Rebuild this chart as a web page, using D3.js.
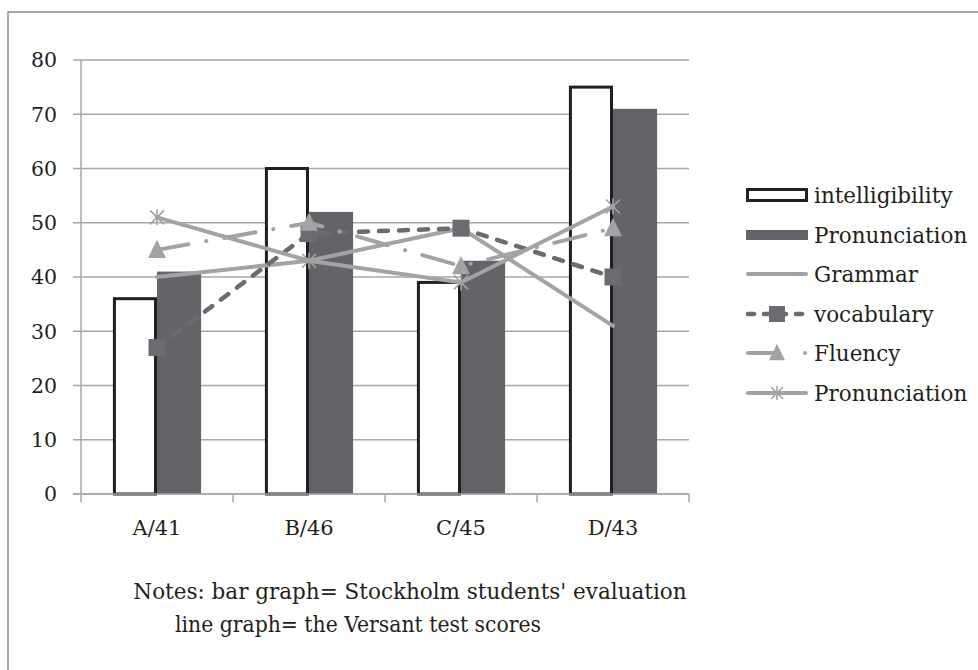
<!DOCTYPE html>
<html><head><meta charset="utf-8">
<script src="https://cdn.jsdelivr.net/npm/d3@7/dist/d3.min.js"></script>
<style>body{margin:0;background:#fff}svg{display:block}text{font-family:"DejaVu Serif",serif;fill:#231f20}</style>
</head><body><svg id="c" width="978" height="670"></svg>
<script>
const categories = ["A/41","B/46","C/45","D/43"];
const intelligibility = [36,60,39,75];
const pronunciationBar = [41,52,43,71];
const grammar = [40,43,49,31];
const vocabulary = [27,48,49,40];
const fluency = [45,50,42,49];
const pronunciationLine = [51,43,39,53];
const yTicks = [0,10,20,30,40,50,60,70,80];
const legendLabels = ["intelligibility","Pronunciation","Grammar","vocabulary","Fluency","Pronunciation"];
const notes = ["Notes: bar graph= Stockholm students' evaluation","line graph= the Versant test scores"];

const svg = d3.select("#c");
const L=81,R=689,T=60,B=494;
const x = d3.scaleBand().domain(categories).range([L,R]).padding(0);
const y = d3.scaleLinear().domain([0,80]).range([B,T]);
const bw = x.bandwidth()*0.29;
const cx = c => x(c)+x.bandwidth()/2;
const LIGHT="#a3a3a5", DARK="#6b6c70", BAR="#636468", GRID="#a7a7a9";

// border
svg.append("rect").attr("x",8).attr("y",12).attr("width",1000).attr("height",700).attr("fill","none").attr("stroke","#6e6e6e").attr("stroke-width",1.2);

// gridlines
svg.append("g").selectAll("line").data(yTicks).join("line")
  .attr("x1",L-8).attr("x2",R).attr("y1",d=>y(d)).attr("y2",d=>y(d))
  .attr("stroke",GRID).attr("stroke-width",1.5);
// y axis
svg.append("line").attr("x1",L).attr("x2",L).attr("y1",T).attr("y2",B).attr("stroke",GRID).attr("stroke-width",1.5);
svg.append("g").selectAll("text").data(yTicks).join("text")
  .attr("x",57).attr("y",d=>y(d)).attr("dy","0.36em").attr("text-anchor","end")
  .attr("font-size",20.5).text(d=>d);
// x ticks
const xt=[...categories.map(c=>x(c)),R];
svg.append("g").selectAll("line").data(xt).join("line")
  .attr("x1",d=>d).attr("x2",d=>d).attr("y1",B).attr("y2",B+8).attr("stroke",GRID).attr("stroke-width",1.5);
svg.append("g").selectAll("text").data(categories).join("text")
  .attr("x",d=>cx(d)).attr("y",527).attr("dy","0.36em").attr("text-anchor","middle")
  .attr("font-size",21).text(d=>d);

// bars
svg.append("g").selectAll("rect").data(categories).join("rect")
  .attr("x",(d)=>cx(d)+1.5-bw).attr("width",bw-3)
  .attr("y",(d,i)=>y(intelligibility[i])).attr("height",(d,i)=>B-y(intelligibility[i]))
  .attr("fill","#fff").attr("stroke","#231f20").attr("stroke-width",3);
svg.append("g").selectAll("rect").data(categories).join("rect")
  .attr("x",d=>cx(d)).attr("width",bw)
  .attr("y",(d,i)=>y(pronunciationBar[i])).attr("height",(d,i)=>B-y(pronunciationBar[i]))
  .attr("fill",BAR);
// redraw zero line over bars
svg.append("line").attr("x1",L-8).attr("x2",R).attr("y1",B).attr("y2",B).attr("stroke",GRID).attr("stroke-width",1.5);

const line = d3.line().x((d,i)=>cx(categories[i])).y(d=>y(d));
function star(g,px,py,s){
  const r=s/2;
  g.append("path").attr("d",`M${px-r},${py-r}L${px+r},${py+r}M${px-r},${py+r}L${px+r},${py-r}M${px},${py-r-1}L${px},${py+r+1}`)
   .attr("stroke",LIGHT).attr("stroke-width",1.6).attr("fill","none");
}
function tri(g,px,py,s){
  const h=s*0.9;
  g.append("path").attr("d",`M${px},${py-h/2-2}L${px+s/2},${py+h/2}L${px-s/2},${py+h/2}Z`).attr("fill",LIGHT);
}
// Grammar
svg.append("path").attr("d",line(grammar)).attr("fill","none").attr("stroke",LIGHT).attr("stroke-width",4).attr("stroke-linecap","round");
// vocabulary
const gv=svg.append("g");
gv.append("path").attr("d",line(vocabulary)).attr("fill","none").attr("stroke",DARK).attr("stroke-width",4.5).attr("stroke-dasharray","9 11").attr("stroke-linecap","round");
gv.selectAll("rect").data(vocabulary).join("rect")
  .attr("x",(d,i)=>cx(categories[i])-8.5).attr("y",d=>y(d)-8.5).attr("width",17).attr("height",17).attr("fill",DARK);
// fluency
const gf=svg.append("g");
gf.append("path").attr("d",line(fluency)).attr("fill","none").attr("stroke",LIGHT).attr("stroke-width",4).attr("stroke-dasharray","32 18 0.1 18").attr("stroke-linecap","round");
fluency.forEach((d,i)=>tri(gf,cx(categories[i]),y(d),18));
// pronunciation line
const gp=svg.append("g");
gp.append("path").attr("d",line(pronunciationLine)).attr("fill","none").attr("stroke",LIGHT).attr("stroke-width",4).attr("stroke-linecap","round");
pronunciationLine.forEach((d,i)=>star(gp,cx(categories[i]),y(d),14));

// legend
const lg=svg.append("g");
const ly=[195,235,274,314,353,393];
const lx0=746,lx1=808,lxm=777;
lg.selectAll("text").data(legendLabels).join("text")
  .attr("x",814).attr("y",(d,i)=>ly[i]).attr("dy","0.36em").attr("font-size",21.5).text(d=>d);
lg.append("rect").attr("x",lx0+1.5).attr("y",ly[0]-5.5).attr("width",lx1-lx0-3).attr("height",11).attr("fill","#fff").attr("stroke","#231f20").attr("stroke-width",3);
lg.append("rect").attr("x",lx0).attr("y",ly[1]-5).attr("width",lx1-lx0).attr("height",10).attr("fill",BAR);
lg.append("line").attr("x1",lx0+2).attr("x2",lx1-2).attr("y1",ly[2]).attr("y2",ly[2]).attr("stroke",LIGHT).attr("stroke-width",4).attr("stroke-linecap","round");
lg.append("line").attr("x1",lx0+2).attr("x2",lx1-2).attr("y1",ly[3]).attr("y2",ly[3]).attr("stroke",DARK).attr("stroke-width",4.5).attr("stroke-dasharray","6 10").attr("stroke-linecap","round");
lg.append("rect").attr("x",lxm-8).attr("y",ly[3]-8).attr("width",16).attr("height",16).attr("fill",DARK);
lg.append("line").attr("x1",lx0+2).attr("x2",lx1-2).attr("y1",ly[4]).attr("y2",ly[4]).attr("stroke",LIGHT).attr("stroke-width",4).attr("stroke-dasharray","30 27 0.1 30").attr("stroke-linecap","round");
tri(lg,lxm,ly[4],16);
lg.append("line").attr("x1",lx0+2).attr("x2",lx1-2).attr("y1",ly[5]).attr("y2",ly[5]).attr("stroke",LIGHT).attr("stroke-width",4).attr("stroke-linecap","round");
star(lg,lxm,ly[5],12);

// notes
svg.append("text").attr("x",410).attr("y",591).attr("dy","0.36em").attr("text-anchor","middle").attr("font-size",21.5).text(notes[0]);
svg.append("text").attr("x",358).attr("y",624).attr("dy","0.36em").attr("text-anchor","middle").attr("font-size",21.5)
  .attr("textLength",366).attr("lengthAdjust","spacingAndGlyphs").text(notes[1]);
</script></body></html>
